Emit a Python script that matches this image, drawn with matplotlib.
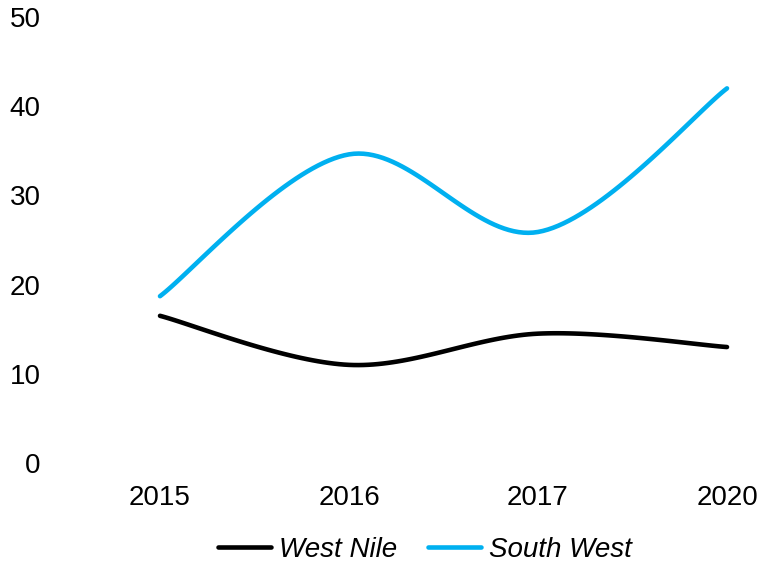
import matplotlib
matplotlib.use('Agg')
import matplotlib.pyplot as plt
import numpy as np

plt.rcParams['font.family'] = ['Liberation Sans', 'DejaVu Sans']

years = ['2015', '2016', '2017', '2020']
west_nile = [16.5, 11.0, 14.5, 13.0]
south_west = [18.7, 34.6, 25.9, 42.0]
yticks = [0, 10, 20, 30, 40, 50]


def smooth(y, n=40):
    # Excel-style smoothed line (Catmull-Rom as cubic Bezier)
    y = np.asarray(y, float)
    x = np.arange(len(y), dtype=float)
    pts = np.column_stack([x, y])
    P = np.vstack([pts[0], pts, pts[-1]])
    out = []
    t = np.linspace(0, 1, n)[:, None]
    for i in range(1, len(P) - 2):
        p0 = P[i]
        p3 = P[i + 1]
        p1 = p0 + (P[i + 1] - P[i - 1]) / 6
        p2 = p3 - (P[i + 2] - P[i]) / 6
        seg = ((1 - t) ** 3 * p0 + 3 * (1 - t) ** 2 * t * p1
               + 3 * (1 - t) * t ** 2 * p2 + t ** 3 * p3)
        out.append(seg if i == 1 else seg[1:])
    out = np.vstack(out)
    return out[:, 0], out[:, 1]


fig = plt.figure(figsize=(7.61, 5.62), dpi=100)
W, H = 761, 562
# axes: x=0 -> px 160, x=3 -> px 727 ; y=0 -> px 463, y=50 -> px 17
ax = fig.add_axes([60 / W, (H - 463) / H, (761 - 60) / W, (463 - 17) / H])
ppu = (727 - 160) / 3
ax.set_xlim(-(160 - 60) / ppu, 3 + (761 - 727) / ppu)
ax.set_ylim(0, 50)

xs, ys = smooth(west_nile)
ax.plot(xs, ys, color='black', lw=3.3, solid_capstyle='round', label='West Nile')
xs, ys = smooth(south_west)
ax.plot(xs, ys, color='#00B0F0', lw=3.3, solid_capstyle='round', label='South West')

ax.set_xticks(range(len(years)))
ax.set_xticklabels(years)
ax.set_yticks(yticks)
ax.tick_params(axis='both', length=0, labelsize=20)
ax.tick_params(axis='y', pad=14)
ax.tick_params(axis='x', pad=16)
for s in ax.spines.values():
    s.set_visible(False)

leg = fig.legend(loc='center', bbox_to_anchor=(425 / W, (H - 550) / H), ncol=2,
                 frameon=False, handlelength=1.9, handletextpad=0.3,
                 columnspacing=1.1, borderpad=0.2,
                 prop={'size': 20, 'style': 'italic'})

fig.savefig('out.png', dpi=100)
